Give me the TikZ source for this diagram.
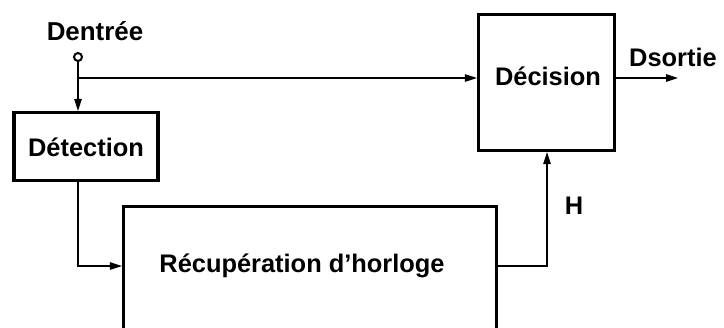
\documentclass[tikz,border=0pt]{standalone}
\usepackage{fontspec}
\setmainfont{Liberation Sans}
\usetikzlibrary{arrows.meta}
\begin{document}
\begin{tikzpicture}[x=1bp,y=-1bp,
  blk/.style={draw=black,line width=3.2bp,fill=none,inner sep=0pt},
  lbl/.style={font=\fontsize{25.5}{30}\selectfont\bfseries,inner sep=0pt},
  wire/.style={line width=1.3bp},
  arr/.style={wire,-{Triangle[length=12bp,width=7.5bp]}}]
\useasboundingbox (0,0) rectangle (724,327);
% blocks
\node[blk,minimum width=144bp,minimum height=68bp] (det) at (86,146.5) {};
\node[lbl] (detl) at (86,147) {Détection};
\node[blk,minimum width=136bp,minimum height=136bp] (dec) at (546.5,82.5) {};
\node[lbl] (decl) at (548,76) {Décision};
\node[blk,minimum width=373bp,minimum height=140bp] (rec) at (310,276.5) {};
\node[lbl] (recl) at (302,266) {Récupération d’horloge};
% texts
\node[lbl,font=\fontsize{26}{30}\selectfont\bfseries] (din) at (95,31) {Dentrée};
\node[lbl] (dout) at (673,57) {Dsortie};
\node[lbl] (h) at (574,206) {H};
% input terminal
\node[draw,circle,line width=2bp,minimum size=8bp,inner sep=0pt] (term) at (78,57) {};
\coordinate (split) at (78,78);
\coordinate (outend) at (678,78);
% connectors
\draw[arr] (term.south) -- (det.north -| term);
\draw[arr] (split) -- (split -| dec.west);
\draw[arr] (det.south -| term) |- (rec.west |- recl);
\draw[arr] (rec.east |- recl) -| (dec.south -| 547,0);
\draw[arr] (dec.east |- split) -- (outend);
\end{tikzpicture}
\end{document}
